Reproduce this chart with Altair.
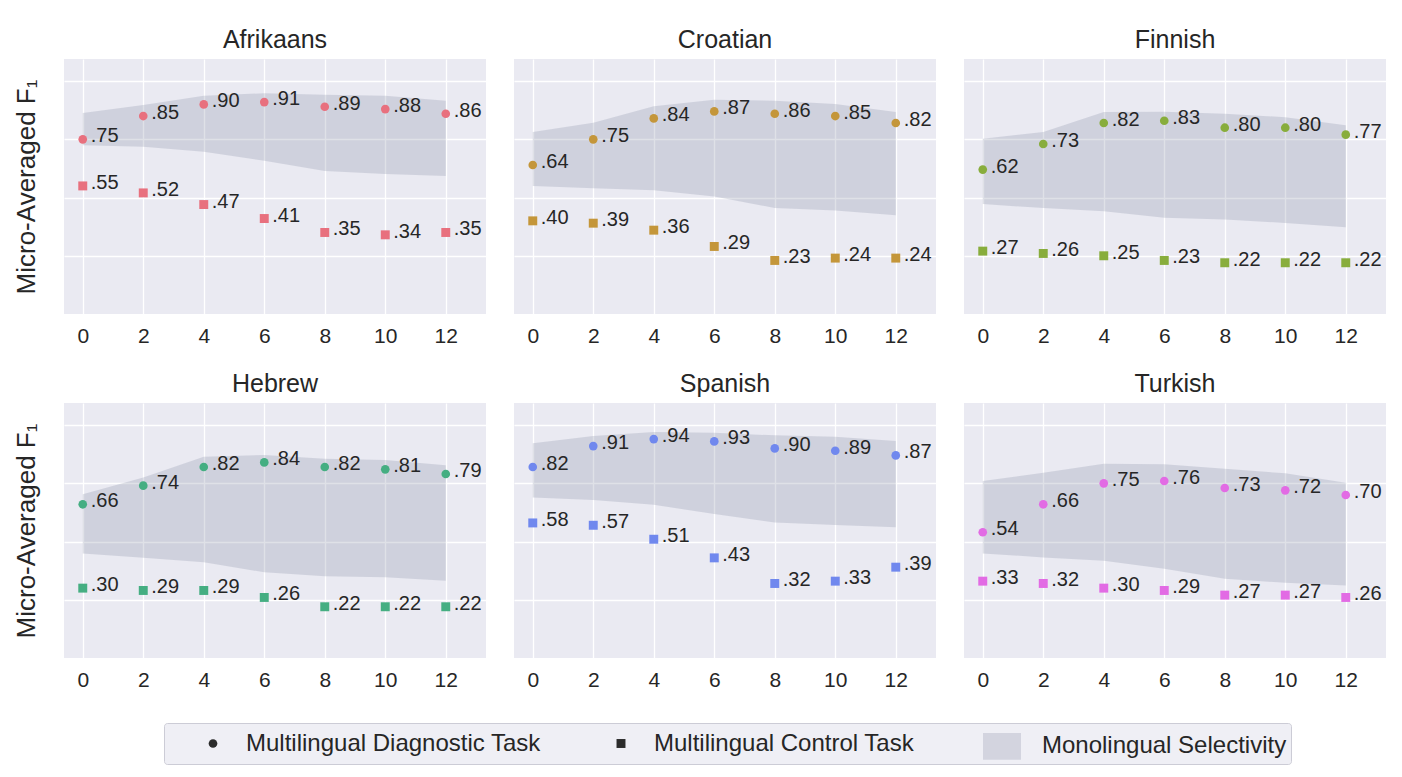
import altair as alt
import pandas as pd

layers = [0, 2, 4, 6, 8, 10, 12]
languages = ["Afrikaans", "Croatian", "Finnish", "Hebrew", "Spanish", "Turkish"]
lang_colors = ["#E8707E", "#C4963A", "#88AD3C", "#45AE82", "#7088EE", "#E26BE4"]
series_names = ["Multilingual Diagnostic Task", "Multilingual Control Task", "Monolingual Selectivity"]

# Multilingual diagnostic task (circles)
diag_afrikaans = [0.75, 0.85, 0.90, 0.91, 0.89, 0.88, 0.86]
diag_croatian = [0.64, 0.75, 0.84, 0.87, 0.86, 0.85, 0.82]
diag_finnish = [0.62, 0.73, 0.82, 0.83, 0.80, 0.80, 0.77]
diag_hebrew = [0.66, 0.74, 0.82, 0.84, 0.82, 0.81, 0.79]
diag_spanish = [0.82, 0.91, 0.94, 0.93, 0.90, 0.89, 0.87]
diag_turkish = [0.54, 0.66, 0.75, 0.76, 0.73, 0.72, 0.70]

# Multilingual control task (squares)
ctrl_afrikaans = [0.55, 0.52, 0.47, 0.41, 0.35, 0.34, 0.35]
ctrl_croatian = [0.40, 0.39, 0.36, 0.29, 0.23, 0.24, 0.24]
ctrl_finnish = [0.27, 0.26, 0.25, 0.23, 0.22, 0.22, 0.22]
ctrl_hebrew = [0.30, 0.29, 0.29, 0.26, 0.22, 0.22, 0.22]
ctrl_spanish = [0.58, 0.57, 0.51, 0.43, 0.32, 0.33, 0.39]
ctrl_turkish = [0.33, 0.32, 0.30, 0.29, 0.27, 0.27, 0.26]

# Monolingual selectivity band (upper / lower edge)
band_hi_afrikaans = [0.863, 0.898, 0.937, 0.948, 0.942, 0.937, 0.916]
band_lo_afrikaans = [0.725, 0.718, 0.697, 0.658, 0.614, 0.601, 0.593]
band_hi_croatian = [0.782, 0.821, 0.892, 0.920, 0.916, 0.902, 0.867]
band_lo_croatian = [0.550, 0.540, 0.531, 0.505, 0.455, 0.444, 0.424]
band_hi_finnish = [0.753, 0.782, 0.867, 0.869, 0.860, 0.845, 0.810]
band_lo_finnish = [0.472, 0.455, 0.441, 0.413, 0.406, 0.391, 0.373]
band_hi_hebrew = [0.703, 0.775, 0.864, 0.872, 0.856, 0.850, 0.828]
band_lo_hebrew = [0.449, 0.430, 0.411, 0.368, 0.351, 0.347, 0.332]
band_hi_spanish = [0.922, 0.953, 0.970, 0.967, 0.956, 0.950, 0.932]
band_lo_spanish = [0.689, 0.679, 0.658, 0.618, 0.582, 0.571, 0.561]
band_hi_turkish = [0.760, 0.796, 0.834, 0.832, 0.813, 0.793, 0.753]
band_lo_turkish = [0.449, 0.432, 0.418, 0.383, 0.340, 0.323, 0.311]

diag = dict(zip(languages, [diag_afrikaans, diag_croatian, diag_finnish, diag_hebrew, diag_spanish, diag_turkish]))
ctrl = dict(zip(languages, [ctrl_afrikaans, ctrl_croatian, ctrl_finnish, ctrl_hebrew, ctrl_spanish, ctrl_turkish]))
band_hi = dict(zip(languages, [band_hi_afrikaans, band_hi_croatian, band_hi_finnish, band_hi_hebrew, band_hi_spanish, band_hi_turkish]))
band_lo = dict(zip(languages, [band_lo_afrikaans, band_lo_croatian, band_lo_finnish, band_lo_hebrew, band_lo_spanish, band_lo_turkish]))

FONT = "Liberation Sans"
TXT = "#262626"
BAND = "#8A8FA8"
W, H = 422, 255

rect_path = "M-1,-0.7L1,-0.7L1,0.7L-1,0.7Z"
legend_obj = alt.Legend(
    title=None, orient="none", direction="horizontal",
    legendX=100, legendY=-7,
    fillColor="#EFEFF5", strokeColor="#CCCCD6", padding=4, cornerRadius=3,
    labelFont=FONT, labelFontSize=24, labelColor=TXT, labelLimit=500,
    columnPadding=35, labelOffset=21, symbolOffset=33, symbolStrokeWidth=0,
)
shape_scale = alt.Scale(domain=series_names, range=["circle", "square", rect_path])
color_scale = alt.Scale(domain=series_names, range=["#2b2b2b", "#2b2b2b", "#D3D4DF"])
size_scale = alt.Scale(type="ordinal", domain=series_names, range=[75, 80, 1444])


def panel(i, lang):
    first_col = (i % 3 == 0)
    pts = pd.DataFrame({
        "layer": layers * 2,
        "value": diag[lang] + ctrl[lang],
        "series": [series_names[0]] * len(layers) + [series_names[1]] * len(layers),
    })
    band = pd.DataFrame({"layer": layers, "lower": band_lo[lang], "upper": band_hi[lang]})

    x_enc = alt.X(
        "layer:Q",
        scale=alt.Scale(domain=[-0.62, 13.33], nice=False, zero=False),
        axis=alt.Axis(values=layers, title=None, labelFont=FONT, labelFontSize=21,
                      labelColor=TXT, labelPadding=11, ticks=False, domain=False,
                      grid=True, gridColor="white", gridWidth=1.3),
    )
    y_axis = alt.Axis(
        values=[0.25, 0.5, 0.75, 1.0], labels=False, ticks=False, domain=False,
        grid=True, gridColor="white", gridWidth=1.3,
        title="Micro-Averaged F₁" if first_col else None,
        titleFont=FONT, titleFontSize=26, titleFontWeight="normal", titleColor=TXT,
        titlePadding=25,
    )
    y_scale = alt.Scale(domain=[0, 1.095], nice=False, zero=False)

    area = alt.Chart(band).mark_area(color=BAND, opacity=0.27).encode(
        x=x_enc,
        y=alt.Y("lower:Q", scale=y_scale, axis=y_axis),
        y2="upper:Q",
    )
    points = alt.Chart(pts).mark_point(filled=True, opacity=1, color=lang_colors[i]).encode(
        x=x_enc,
        y=alt.Y("value:Q", scale=y_scale, axis=y_axis),
        shape=alt.Shape("series:N", scale=shape_scale, legend=None),
        size=alt.Size("series:N", scale=size_scale, legend=None),
    )
    labels = alt.Chart(pts).transform_calculate(
        lab="substring(format(datum.value, '.2f'), 1)"
    ).mark_text(align="left", baseline="middle", dx=8, dy=-3, font=FONT,
                fontSize=20, color=TXT).encode(
        x=x_enc,
        y=alt.Y("value:Q", scale=y_scale, axis=y_axis),
        text="lab:N",
    )
    return alt.layer(area, points, labels).properties(
        width=W, height=H,
        title=alt.TitleParams(lang, font=FONT, fontSize=25, fontWeight="normal",
                              color=TXT, offset=6),
    )


legend_chart = alt.Chart(pd.DataFrame({"series": series_names})).mark_point(
    filled=True, opacity=1
).encode(
    color=alt.Color("series:N", scale=color_scale, legend=legend_obj),
    shape=alt.Shape("series:N", scale=shape_scale, legend=legend_obj),
    size=alt.Size("series:N", scale=size_scale, legend=legend_obj),
    opacity=alt.value(0),
).properties(
    width=10, height=1,
    view=alt.ViewBackground(fill="transparent", stroke="transparent"),
)

row1 = alt.hconcat(*[panel(i, languages[i]) for i in range(3)], spacing=28)
row2 = alt.hconcat(*[panel(i, languages[i]) for i in range(3, 6)], spacing=28)

chart = alt.vconcat(row1, row2, legend_chart, spacing=26).resolve_legend(
    color="independent", shape="independent", size="independent",
).properties(
    padding={"left": 5, "top": 20, "right": 5, "bottom": 5},
).configure(
    background="white",
).configure_view(
    fill="#EAEAF2", stroke=None,
).configure_legend(
    symbolOpacity=1,
)

chart.save("out.html", embed_options={"renderer": "svg", "actions": False})
